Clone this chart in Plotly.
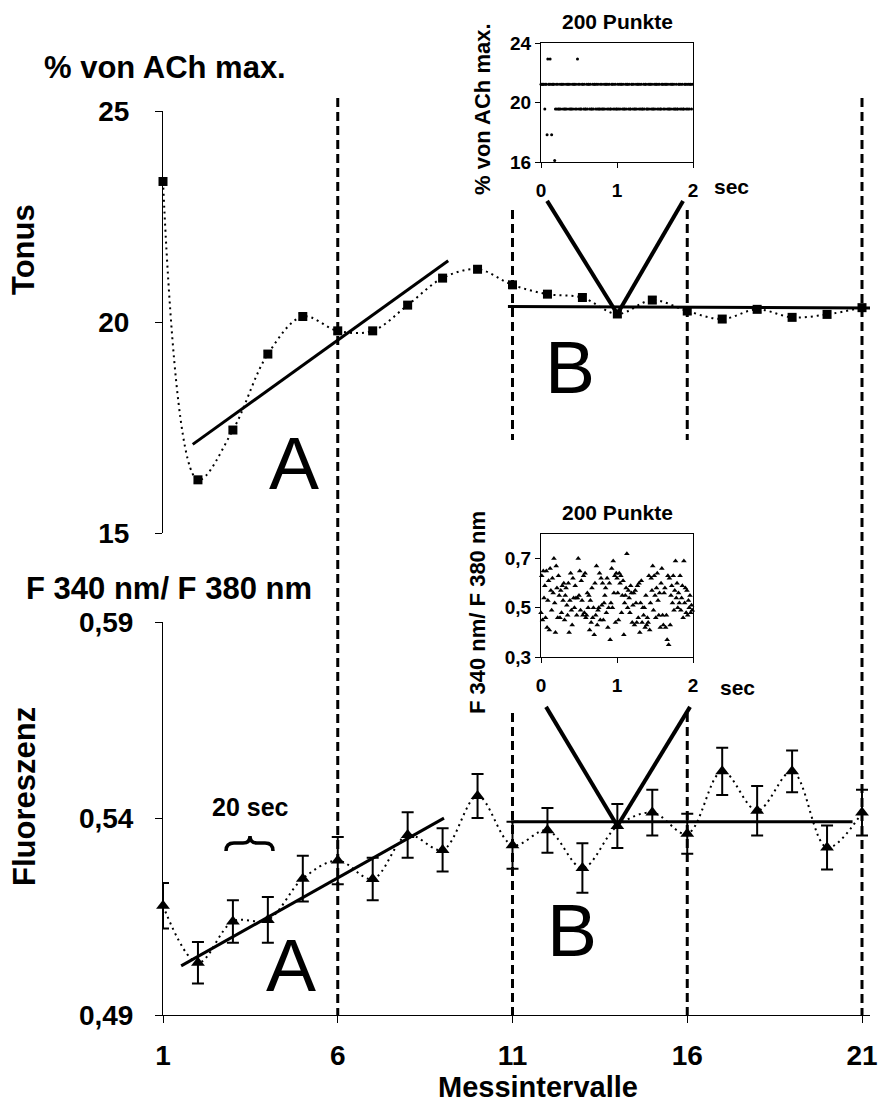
import plotly.graph_objects as go

# ---------------------------------------------------------------- data
intervals = list(range(1, 22))
interval_ticks = [1, 6, 11, 16, 21]
interval_labels = ["1", "6", "11", "16", "21"]

# Tonus (% of ACh max.), mean and SEM per measuring interval
tonus = [23.33, 16.26, 17.44, 19.24, 20.13, 19.79, 19.79, 20.40, 21.04, 21.25,
         20.88, 20.66, 20.58, 20.19, 20.52, 20.26, 20.07, 20.30, 20.11, 20.18, 20.34]
tonus_err = [0.07, 0.07, 0.07, 0.07, 0.07, 0.07, 0.07, 0.07, 0.07, 0.07,
             0.07, 0.07, 0.07, 0.07, 0.07, 0.07, 0.07, 0.07, 0.07, 0.07, 0.07]
tonus_ticks = [15, 20, 25]
tonus_labels = ["15", "20", "25"]

# Fluorescence ratio F340/F380, mean and SEM per measuring interval
fluo = [0.5178, 0.5033, 0.5138, 0.5142, 0.5247, 0.5293, 0.5246, 0.5358, 0.5320, 0.5457,
        0.5332, 0.5370, 0.5274, 0.5381, 0.5415, 0.5361, 0.5520, 0.5420, 0.5520, 0.5326, 0.5415]
fluo_err = [0.0058, 0.0053, 0.0054, 0.0058, 0.0058, 0.0060, 0.0054, 0.0058, 0.0055, 0.0056,
            0.0060, 0.0057, 0.0063, 0.0056, 0.0058, 0.0051, 0.0060, 0.0063, 0.0053, 0.0056, 0.0058]
fluo_ticks = [0.49, 0.54, 0.59]
fluo_labels = ["0,49", "0,54", "0,59"]

# linear trends of phase A and phase B
tonus_fit_a_x = [1.85, 9.16]
tonus_fit_a_y = [17.10, 21.45]
tonus_fit_b_x = [10.87, 21.23]
tonus_fit_b_y = [20.37, 20.33]
fluo_fit_a_x = [1.52, 9.04]
fluo_fit_a_y = [0.5025, 0.5401]
fluo_fit_b_x = [10.96, 20.73]
fluo_fit_b_y = [0.5392, 0.5392]

# raw recording of one interval: 200 samples within 2 s
sample_time = [i / 100 for i in range(200)]
raw_tonus = [
    21.22, 21.22, 21.22, 21.22, 21.22, 19.56, 21.22, 21.22, 17.83, 22.93,
    21.22, 21.22, 22.93, 21.22, 17.83, 21.22, 21.22, 21.22, 16.10, 19.56,
    21.22, 19.56, 21.22, 19.56, 19.56, 21.22, 19.56, 21.22, 21.22, 19.56,
    21.22, 19.56, 19.56, 21.22, 19.56, 21.22, 21.22, 19.56, 21.22, 19.56,
    19.56, 21.22, 19.56, 21.22, 21.22, 19.56, 21.22, 19.56, 22.93, 21.22,
    19.56, 21.22, 19.56, 19.56, 21.22, 21.22, 19.56, 21.22, 19.56, 19.56,
    21.22, 19.56, 21.22, 21.22, 19.56, 21.22, 19.56, 19.56, 21.22, 19.56,
    21.22, 21.22, 19.56, 21.22, 19.56, 21.22, 19.56, 19.56, 21.22, 19.56,
    21.22, 19.56, 19.56, 21.22, 19.56, 21.22, 21.22, 19.56, 21.22, 19.56,
    21.22, 19.56, 19.56, 21.22, 21.22, 19.56, 21.22, 19.56, 21.22, 19.56,
    19.56, 21.22, 19.56, 21.22, 19.56, 21.22, 21.22, 19.56, 21.22, 19.56,
    19.56, 21.22, 19.56, 21.22, 21.22, 19.56, 21.22, 19.56, 19.56, 21.22,
    21.22, 19.56, 21.22, 19.56, 19.56, 21.22, 19.56, 21.22, 21.22, 19.56,
    21.22, 19.56, 21.22, 19.56, 19.56, 21.22, 19.56, 21.22, 21.22, 19.56,
    19.56, 21.22, 19.56, 21.22, 21.22, 19.56, 21.22, 19.56, 19.56, 21.22,
    19.56, 21.22, 21.22, 19.56, 21.22, 19.56, 21.22, 19.56, 19.56, 21.22,
    21.22, 19.56, 21.22, 19.56, 21.22, 21.22, 19.56, 21.22, 19.56, 19.56,
    21.22, 19.56, 21.22, 21.22, 19.56, 21.22, 19.56, 19.56, 21.22, 19.56,
    19.56, 21.22, 21.22, 19.56, 21.22, 19.56, 21.22, 19.56, 19.56, 21.22,
    21.22, 19.56, 21.22, 19.56, 21.22, 19.56, 21.22, 21.22, 19.56, 21.22,
]
raw_fluo = [
    0.48, 0.63, 0.45, 0.65, 0.54, 0.59, 0.46, 0.65, 0.42, 0.53,
    0.61, 0.41, 0.66, 0.57, 0.49, 0.62, 0.56, 0.70, 0.52, 0.40,
    0.67, 0.58, 0.46, 0.63, 0.55, 0.46, 0.57, 0.48, 0.59, 0.53,
    0.60, 0.45, 0.55, 0.58, 0.51, 0.47, 0.60, 0.40, 0.53, 0.64,
    0.49, 0.43, 0.62, 0.54, 0.50, 0.59, 0.54, 0.47, 0.54, 0.70,
    0.55, 0.65, 0.49, 0.61, 0.53, 0.47, 0.63, 0.48, 0.64, 0.46,
    0.47, 0.56, 0.50, 0.55, 0.41, 0.53, 0.44, 0.58, 0.46, 0.50,
    0.39, 0.60, 0.47, 0.67, 0.43, 0.49, 0.50, 0.64, 0.45, 0.62,
    0.51, 0.60, 0.45, 0.52, 0.55, 0.58, 0.48, 0.62, 0.42, 0.50,
    0.60, 0.37, 0.52, 0.66, 0.50, 0.69, 0.56, 0.63, 0.44, 0.64,
    0.62, 0.56, 0.45, 0.64, 0.60, 0.63, 0.48, 0.55, 0.61, 0.39,
    0.52, 0.55, 0.58, 0.72, 0.50, 0.57, 0.54, 0.48, 0.59, 0.56,
    0.44, 0.51, 0.56, 0.43, 0.57, 0.52, 0.44, 0.59, 0.46, 0.60,
    0.40, 0.52, 0.61, 0.44, 0.50, 0.47, 0.50, 0.42, 0.55, 0.43,
    0.46, 0.44, 0.63, 0.41, 0.52, 0.62, 0.57, 0.67, 0.49, 0.63,
    0.55, 0.46, 0.58, 0.64, 0.53, 0.47, 0.56, 0.42, 0.60, 0.66,
    0.47, 0.43, 0.56, 0.58, 0.42, 0.47, 0.37, 0.63, 0.35, 0.62,
    0.43, 0.55, 0.59, 0.52, 0.63, 0.49, 0.57, 0.69, 0.54, 0.60,
    0.50, 0.56, 0.52, 0.63, 0.49, 0.54, 0.59, 0.46, 0.69, 0.52,
    0.58, 0.48, 0.57, 0.47, 0.53, 0.50, 0.55, 0.48, 0.51, 0.49,
]
sec_ticks = [0, 1, 2]
sec_labels = ["0", "1", "2"]
raw_tonus_ticks = [16, 20, 24]
raw_tonus_labels = ["16", "20", "24"]
raw_fluo_ticks = [0.3, 0.5, 0.7]
raw_fluo_labels = ["0,3", "0,5", "0,7"]

# ---------------------------------------------------------------- layout helpers
W, H = 880, 1102
FONT = "Liberation Sans, Arial, Helvetica, sans-serif"
BLACK = "#000000"


def px(x):
    return x / W


def py(y):
    return 1 - y / H


X0_PX, X_UNIT = 163, 34.95          # x = 1 at 163 px, 34.95 px per interval
X1_PX = 870
x_range = [1, 1 + (X1_PX - X0_PX) / X_UNIT]

fig = go.Figure()

# ---------------------------------------------------------------- main series
fig.add_trace(go.Scatter(
    x=intervals, y=tonus, xaxis="x", yaxis="y", mode="lines+markers",
    line=dict(color=BLACK, width=2, dash="2px,4px", shape="spline", smoothing=1),
    marker=dict(symbol="square", size=9, color=BLACK),
    error_y=dict(type="data", array=tonus_err, color=BLACK, thickness=1.5, width=4),
    cliponaxis=False, showlegend=False))

fig.add_trace(go.Scatter(
    x=intervals, y=fluo, xaxis="x", yaxis="y3", mode="lines+markers",
    line=dict(color=BLACK, width=2, dash="2px,4px", shape="spline", smoothing=1),
    marker=dict(symbol="triangle-up", size=12, color=BLACK),
    error_y=dict(type="data", array=fluo_err, color=BLACK, thickness=2, width=6),
    cliponaxis=False, showlegend=False))

for fx, fy, ya in [(tonus_fit_a_x, tonus_fit_a_y, "y"), (tonus_fit_b_x, tonus_fit_b_y, "y"),
                   (fluo_fit_a_x, fluo_fit_a_y, "y3"), (fluo_fit_b_x, fluo_fit_b_y, "y3")]:
    fig.add_trace(go.Scatter(x=fx, y=fy, xaxis="x", yaxis=ya, mode="lines",
                             line=dict(color=BLACK, width=3), cliponaxis=False,
                             showlegend=False))

# ---------------------------------------------------------------- inset series
fig.add_trace(go.Scatter(
    x=sample_time, y=raw_tonus, xaxis="x2", yaxis="y2", mode="markers",
    marker=dict(symbol="circle", size=3, color=BLACK), cliponaxis=False,
    showlegend=False))
fig.add_trace(go.Scatter(
    x=sample_time, y=raw_fluo, xaxis="x4", yaxis="y4", mode="markers",
    marker=dict(symbol="triangle-up", size=5, color=BLACK), cliponaxis=False,
    showlegend=False))

# ---------------------------------------------------------------- axes
tick_font = dict(family=FONT, size=28, color=BLACK, weight="bold")
inset_font = dict(family=FONT, size=19, color=BLACK, weight="bold")

main_axis = dict(showgrid=False, zeroline=False, showline=True, linecolor=BLACK,
                 linewidth=1, ticks="outside", ticklen=7, tickwidth=1,
                 tickcolor=BLACK, tickfont=tick_font, automargin=False)
inset_axis = dict(showgrid=False, zeroline=False, showline=True, mirror=True,
                  linecolor=BLACK, linewidth=1, ticks="outside", ticklen=5,
                  tickwidth=1, tickcolor=BLACK, tickfont=inset_font,
                  automargin=False)

fig.update_layout(
    width=W, height=H, autosize=False,
    margin=dict(l=0, r=0, t=0, b=0, pad=0, autoexpand=False),
    paper_bgcolor="white", plot_bgcolor="white",
    font=dict(family=FONT, color=BLACK),
    xaxis=dict(main_axis, domain=[px(X0_PX), px(X1_PX)], range=x_range,
               anchor="y3", tickvals=interval_ticks, ticktext=interval_labels,
               ticklabelstandoff=8),
    yaxis=dict(main_axis, domain=[py(533), py(111)], range=[15, 25], anchor="x",
               tickvals=tonus_ticks, ticktext=tonus_labels, ticklabelstandoff=20),
    yaxis3=dict(main_axis, domain=[py(1015), py(622)], range=[0.49, 0.59],
                anchor="x", tickvals=fluo_ticks, ticktext=fluo_labels,
                ticklabelstandoff=16),
    xaxis2=dict(inset_axis, domain=[px(541), px(693)], range=[0, 2], anchor="y2",
                tickvals=sec_ticks, ticktext=sec_labels, ticklabelstandoff=6),
    yaxis2=dict(inset_axis, domain=[py(162), py(43)], range=[16, 24], anchor="x2",
                tickvals=raw_tonus_ticks, ticktext=raw_tonus_labels,
                ticklabelstandoff=0),
    xaxis4=dict(inset_axis, domain=[px(541), px(693)], range=[0, 2], anchor="y4",
                tickvals=sec_ticks, ticktext=sec_labels, ticklabelstandoff=6),
    yaxis4=dict(inset_axis, domain=[py(657), py(534)], range=[0.3, 0.8],
                anchor="x4", tickvals=raw_fluo_ticks, ticktext=raw_fluo_labels,
                ticklabelstandoff=0),
)

# ---------------------------------------------------------------- shapes
shapes = []
dash_line = dict(color=BLACK, width=3, dash="9px,5px")
# interval borders (dashed)
for xv, segs in [(6, [(98, 1015)]), (11, [(210, 440), (713, 1015)]),
                 (16, [(210, 440), (713, 1015)]), (21, [(98, 1015)])]:
    for top, bottom in segs:
        shapes.append(dict(type="line", xref="x", yref="paper", x0=xv, x1=xv,
                           y0=py(top), y1=py(bottom), line=dash_line))

# connectors from the insets to the zoomed-in interval
v_line = dict(color=BLACK, width=4)
shapes += [
    dict(type="line", xref="x", yref="y", x0=11.99, y0=22.87, x1=14, y1=tonus[13], line=v_line),
    dict(type="line", xref="x", yref="y", x0=15.88, y0=22.87, x1=14, y1=tonus[13], line=v_line),
    dict(type="line", xref="x", yref="y3", x0=11.96, y0=0.5684, x1=14, y1=fluo[13], line=v_line),
    dict(type="line", xref="x", yref="y3", x0=16.08, y0=0.5684, x1=14, y1=fluo[13], line=v_line),
]

# curly brace marking one interval (20 sec)
brace_pts = [(226, 851), (226, 843), (234, 843), (243, 843), (250, 843), (250, 836),
             (250, 843), (257, 843), (265, 843), (273, 843), (273, 851)]
p = [f"{px(a):.5f},{py(b):.5f}" for a, b in brace_pts]
brace_path = (f"M {p[0]} Q {p[1]} {p[2]} L {p[3]} Q {p[4]} {p[5]} "
              f"Q {p[6]} {p[7]} L {p[8]} Q {p[9]} {p[10]}")
shapes.append(dict(type="path", xref="paper", yref="paper", path=brace_path,
                   line=dict(color=BLACK, width=3.5)))
fig.update_layout(shapes=shapes)

# ---------------------------------------------------------------- texts
def label(text, x, y, size, bold=True, angle=0, yanchor="middle"):
    return dict(text=text, x=px(x), y=py(y), xref="paper", yref="paper",
                xanchor="center", yanchor=yanchor, showarrow=False,
                textangle=angle,
                font=dict(family=FONT, size=size, color=BLACK,
                          weight="bold" if bold else "normal"))


annotations = [
    label("% von ACh max.", 165, 67, 31),
    label("Tonus", 24, 250, 31, angle=-90),
    label("F 340 nm/ F 380 nm", 169, 588, 31),
    label("Fluoreszenz", 24, 797, 31, angle=-90),
    label("Messintervalle", 538, 1105, 29, yanchor="bottom"),
    label("200 Punkte", 617, 22, 21),
    label("200 Punkte", 617, 513, 21),
    label("% von ACh max.", 482, 109, 22, angle=-90),
    label("F 340 nm/ F 380 nm", 477, 612, 22, angle=-90),
    label("sec", 731, 186, 21),
    label("sec", 737, 687, 21),
    label("20 sec", 250, 807, 25),
    label("A", 294, 463, 75, bold=False),
    label("B", 570, 367, 75, bold=False),
    label("A", 291, 965, 75, bold=False),
    label("B", 572, 930, 75, bold=False),
]
fig.update_layout(annotations=annotations)

fig.write_html("out.html")
